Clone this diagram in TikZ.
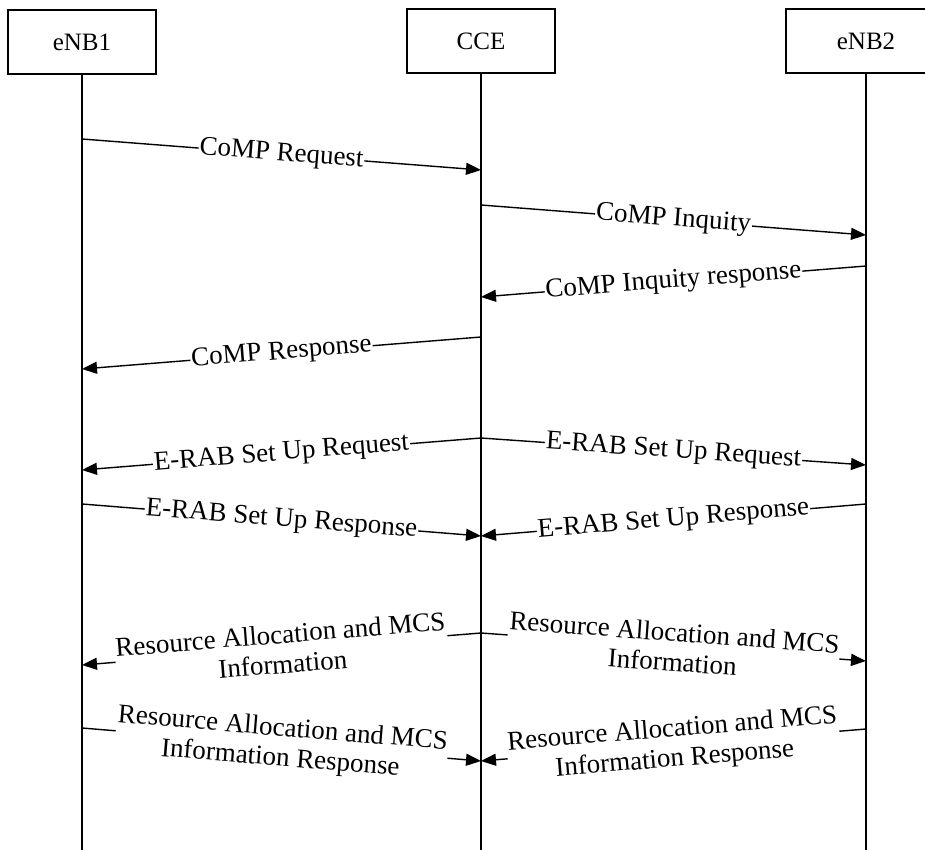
\documentclass[tikz,border=0pt]{standalone}
\usepackage{fontspec}
\setmainfont{Liberation Serif}
\usetikzlibrary{arrows.meta}
\begin{document}
\begin{tikzpicture}[x=1pt,y=-1pt,
  entity/.style={draw,line width=1.6pt,minimum width=148pt,minimum height=64pt,
    inner sep=0pt,font=\fontsize{25}{28}\selectfont},
  life/.style={line width=1.4pt},
  msg/.style={line width=1.4pt,-{Triangle[length=15pt,width=12pt]}},
  lbl/.style={sloped,fill=white,inner sep=1pt,align=center,
    font=\fontsize{27}{30}\selectfont}]
\clip (0,0) rectangle (925,850);

% entities
\node[entity] (enb1) at (82,42) {eNB1};
\node[entity] (cce) at (481,41) {CCE};
\node[entity,minimum width=160pt] (enb2) at (866,41) {eNB2};

% lifelines
\coordinate (e1end) at (82,852);
\coordinate (ccend) at (481,852);
\coordinate (e2end) at (866,852);
\draw[life] (enb1.south) -- (e1end);
\draw[life] (cce.south) -- (ccend);
\draw[life] (enb2.south) -- (e2end);

% CoMP set-up
\draw[msg] (enb1.south |- 0,139) -- node[lbl]{CoMP Request} (cce.south |- 0,170);
\draw[msg] (cce.south |- 0,205) -- node[lbl]{CoMP Inquity} (enb2.south |- 0,235);
\draw[msg] (enb2.south |- 0,266) -- node[lbl]{CoMP Inquity response} (cce.south |- 0,297);
\draw[msg] (cce.south |- 0,337) -- node[lbl]{CoMP Response} (enb1.south |- 0,369);

% E-RAB set-up
\draw[msg] (cce.south |- 0,438) -- node[lbl]{E-RAB Set Up Request} (enb1.south |- 0,470);
\draw[msg] (cce.south |- 0,438) -- node[lbl]{E-RAB Set Up Request} (enb2.south |- 0,465);
\draw[msg] (enb1.south |- 0,504) -- node[lbl]{E-RAB Set Up Response} (cce.south |- 0,536);
\draw[msg] (enb2.south |- 0,504) -- node[lbl]{E-RAB Set Up Response} (cce.south |- 0,536);

% resource allocation
\draw[msg] (cce.south |- 0,633) -- node[lbl]{Resource Allocation and MCS\\Information} (enb1.south |- 0,665);
\draw[msg] (cce.south |- 0,633) -- node[lbl]{Resource Allocation and MCS\\Information} (enb2.south |- 0,661);
\draw[msg] (enb1.south |- 0,728) -- node[lbl]{Resource Allocation and MCS\\Information Response} (cce.south |- 0,761);
\draw[msg] (enb2.south |- 0,729) -- node[lbl]{Resource Allocation and MCS\\Information Response} (cce.south |- 0,761);
\end{tikzpicture}
\end{document}
